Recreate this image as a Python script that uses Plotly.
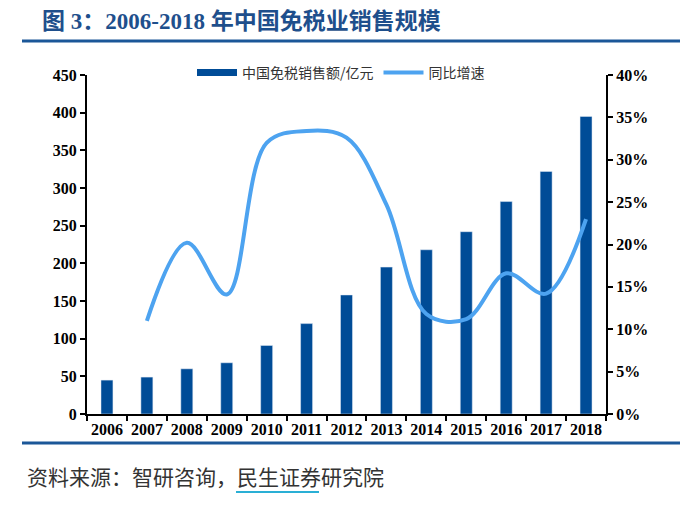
import plotly.graph_objects as go

years = ["2006", "2007", "2008", "2009", "2010", "2011", "2012",
         "2013", "2014", "2015", "2016", "2017", "2018"]
sales = [45, 49, 60, 68, 91, 120, 158, 195, 218, 242, 282, 322, 395]
growth_years = years[1:]
growth = [0.110, 0.202, 0.141, 0.320, 0.334, 0.326, 0.247, 0.118, 0.112, 0.166, 0.142, 0.230]

bar_name = "中国免税销售额/亿元"
line_name = "同比增速"
title_text = "图 3：2006-2018 年中国免税业销售规模"
source_text = "资料来源：智研咨询，民生证券研究院"

BAR_COLOR = "#004C97"
LINE_COLOR = "#4DA3F0"
TITLE_COLOR = "#1E4F8C"
RULE_COLOR = "#1B5798"

W, H = 700, 510
L, R, T, B = 87, 94, 75, 96
PW, PH = W - L - R, H - T - B


def px2x(px):
    return (px - L) / PW


def py2y(py):
    return (H - B - py) / PH


serif = "Liberation Serif, Times New Roman, serif"
cjk = "Noto Sans CJK SC, sans-serif"

fig = go.Figure()

fig.add_trace(go.Bar(
    x=years, y=sales, name=bar_name, marker_color=BAR_COLOR,
    width=0.3, showlegend=False, yaxis="y"))

# legend proxy for the bar series (wide rectangle symbol)
fig.add_trace(go.Scatter(
    x=[None], y=[None], mode="lines", name=bar_name,
    line=dict(color=BAR_COLOR, width=7), yaxis="y"))

fig.add_trace(go.Scatter(
    x=growth_years, y=growth, name=line_name, mode="lines",
    line=dict(color=LINE_COLOR, width=4, shape="spline", smoothing=1.0),
    yaxis="y2"))

tick_font = dict(family=serif, size=16, color="black", weight="bold")

fig.update_layout(
    width=W, height=H,
    margin=dict(l=L, r=R, t=T, b=B, autoexpand=False),
    paper_bgcolor="white", plot_bgcolor="white",
    showlegend=True,
    legend=dict(orientation="h", x=px2x(192), xanchor="left",
                y=py2y(73), yanchor="middle",
                font=dict(family=cjk, size=14, color="#333333"),
                bgcolor="rgba(0,0,0,0)", itemwidth=40,
                tracegroupgap=0),
    xaxis=dict(type="category", range=[-0.5, 12.5], tickangle=0,
               showline=True, linecolor="black", linewidth=2,
               ticks="outside", ticklen=5, tickwidth=2, tickcolor="black",
               tickson="boundaries", showgrid=False, zeroline=False,
               tickfont=tick_font),
    yaxis=dict(range=[0, 450], dtick=50, showline=True, linecolor="black",
               linewidth=2, ticks="outside", ticklen=5, tickwidth=2,
               tickcolor="black", showgrid=False, zeroline=False,
               tickfont=tick_font),
    yaxis2=dict(range=[0, 0.40], dtick=0.05, tickformat=".0%",
                overlaying="y", side="right", showline=True,
                linecolor="black", linewidth=2, ticks="outside", ticklen=5,
                tickwidth=2, tickcolor="black", showgrid=False, zeroline=False,
                tickfont=tick_font),
    annotations=[
        dict(text=title_text, xref="paper", yref="paper",
             x=px2x(40), y=py2y(22), xanchor="left", yanchor="middle",
             showarrow=False,
             font=dict(family=serif + ", " + cjk, size=23, color=TITLE_COLOR,
                       weight="bold")),
        dict(text=source_text, xref="paper", yref="paper",
             x=px2x(25), y=py2y(476), xanchor="left", yanchor="middle",
             showarrow=False,
             font=dict(family=cjk, size=21, color="#333333")),
    ],
    shapes=[
        dict(type="line", xref="paper", yref="paper",
             x0=px2x(22), x1=px2x(680), y0=py2y(41), y1=py2y(41),
             line=dict(color=RULE_COLOR, width=3)),
        dict(type="line", xref="paper", yref="paper",
             x0=px2x(22), x1=px2x(680), y0=py2y(443), y1=py2y(443),
             line=dict(color=RULE_COLOR, width=3)),
        dict(type="line", xref="paper", yref="paper",
             x0=px2x(236), x1=px2x(319), y0=py2y(492), y1=py2y(492),
             line=dict(color="#2AAFD5", width=2)),
    ],
)

fig.write_html(
    "out.html",
    config={"displayModeBar": False},
    post_script="document.body.style.margin='0';document.body.style.padding='0';",
)
